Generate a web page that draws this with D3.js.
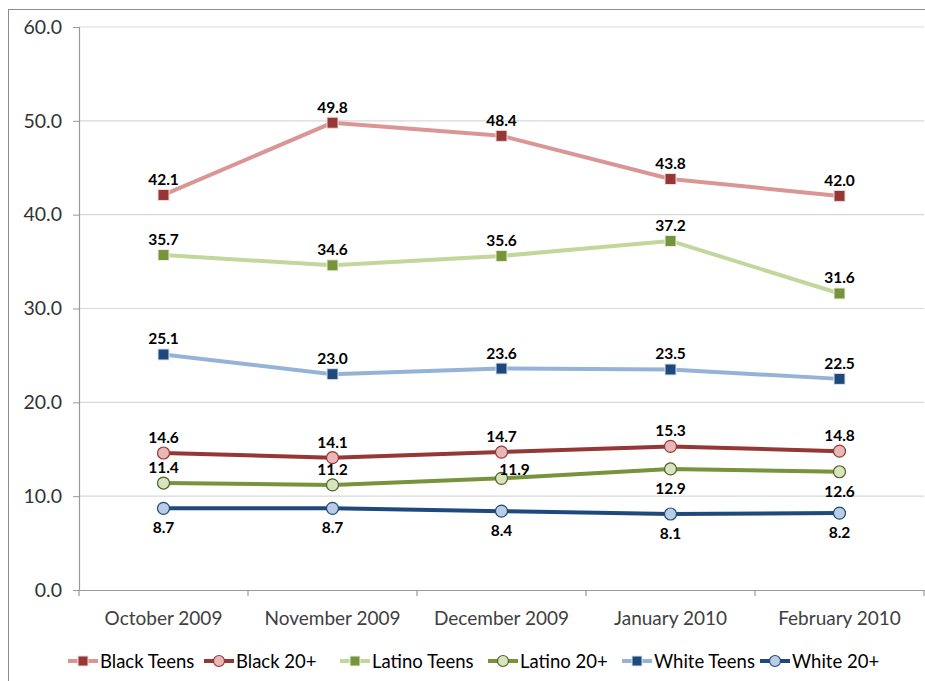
<!DOCTYPE html>
<html><head><meta charset="utf-8">
<script src="https://cdn.jsdelivr.net/npm/d3@7"></script>
<style>body{margin:0;background:#fff;}svg{display:block;font-family:Lato,"Open Sans",sans-serif;}</style>
</head><body>
<svg id="c" width="925" height="681"></svg>
<script>
const categories = ["October 2009","November 2009","December 2009","January 2010","February 2010"];
const seriesNames = ["Black Teens","Black 20+","Latino Teens","Latino 20+","White Teens","White 20+"];
const blackTeens = [42.1,49.8,48.4,43.8,42.0];
const black20 = [14.6,14.1,14.7,15.3,14.8];
const latinoTeens = [35.7,34.6,35.6,37.2,31.6];
const latino20 = [11.4,11.2,11.9,12.9,12.6];
const whiteTeens = [25.1,23.0,23.6,23.5,22.5];
const white20 = [8.7,8.7,8.4,8.1,8.2];
const yTicks = [0,10,20,30,40,50,60];
// label placement: "a" above, "b" below, "r" above-right
const labelPos = [
  ["a","a","a","a","a"],
  ["a","a","a","a","a"],
  ["a","a","a","a","a"],
  ["a","a","r","b","b"],
  ["a","a","a","a","a"],
  ["b","b","b","b","b"]
];
const styles = [
  {line:"#D99694", marker:"square", fill:"#953735", stroke:"#F2DCDB"},
  {line:"#953735", marker:"circle", fill:"#E6B9B8", stroke:"#953735"},
  {line:"#C3D69B", marker:"square", fill:"#77933C", stroke:"#EBF1DE"},
  {line:"#77933C", marker:"circle", fill:"#D7E4BD", stroke:"#4F6228"},
  {line:"#95B3D7", marker:"square", fill:"#1F497D", stroke:"#DCE6F2"},
  {line:"#1F497D", marker:"circle", fill:"#B9CDE5", stroke:"#1F497D"}
];
const data = [blackTeens,black20,latinoTeens,latino20,whiteTeens,white20];

const svg = d3.select("#c");
svg.append("rect").attr("x",8.5).attr("y",9.5).attr("width",930).attr("height",700)
  .attr("fill","none").attr("stroke","#8c8c8c").attr("stroke-width",1);

const pL=79, pR=924, pT=27, pB=590;
const x = d3.scaleBand().domain(categories).range([pL,pR]);
const y = d3.scaleLinear().domain([0,60]).range([pB,pT]);

// gridlines
svg.append("g").selectAll("line").data(yTicks.filter(d=>d>0)).join("line")
  .attr("x1",pL).attr("x2",pR).attr("y1",d=>y(d)).attr("y2",d=>y(d))
  .attr("stroke","#d9d9d9").attr("stroke-width",1.2);

// y axis
const ya = svg.append("g").attr("transform",`translate(${pL},0)`)
  .call(d3.axisLeft(y).tickValues(yTicks).tickFormat(d3.format(".1f")).tickSize(6).tickPadding(11));
ya.select(".domain").attr("stroke","#999").attr("stroke-width",1.2);
ya.selectAll(".tick line").attr("stroke","#999");
ya.selectAll("text").attr("font-size",19.5).attr("fill","#333").attr("font-family","Lato,sans-serif");

// x axis
const xa = svg.append("g").attr("transform",`translate(0,${pB})`)
  .call(d3.axisBottom(x).tickSize(0).tickPadding(22));
xa.select(".domain").attr("stroke","#999").attr("stroke-width",1.2);
xa.selectAll("text").attr("font-size",19).attr("fill","#404040").attr("font-family","Lato,sans-serif");
// category boundary ticks
const bounds = categories.map(c=>x(c)).concat([pR]);
xa.append("g").selectAll("line").data(bounds).join("line")
  .attr("x1",d=>d).attr("x2",d=>d).attr("y1",0).attr("y2",6).attr("stroke","#999").attr("stroke-width",1.2);

const cx = c => x(c)+x.bandwidth()/2;
const line = d3.line().x((d,i)=>cx(categories[i])).y(d=>y(d));

data.forEach((vals,si)=>{
  const st = styles[si];
  const g = svg.append("g");
  g.append("path").datum(vals).attr("d",line).attr("fill","none")
    .attr("stroke",st.line).attr("stroke-width",4).attr("stroke-linejoin","round");
  vals.forEach((v,i)=>{
    const px = cx(categories[i]), py = y(v);
    if(st.marker==="square"){
      g.append("rect").attr("x",px-5.5).attr("y",py-5.5).attr("width",11).attr("height",11)
        .attr("fill",st.fill).attr("stroke",st.stroke).attr("stroke-width",1);
    } else {
      g.append("circle").attr("cx",px).attr("cy",py).attr("r",6)
        .attr("fill",st.fill).attr("stroke",st.stroke).attr("stroke-width",1.2);
    }
  });
});
// labels on top
data.forEach((vals,si)=>{
  vals.forEach((v,i)=>{
    const px = cx(categories[i]), py = y(v);
    const p = labelPos[si][i];
    let lx=px, ly=py-10;
    if(p==="b") ly = py+25;
    if(p==="r"){ lx = px+13; ly = py-3; }
    svg.append("text").attr("x",lx).attr("y",ly).attr("text-anchor","middle")
      .attr("font-size",15.5).attr("font-weight","bold").attr("fill","#000")
      .text(d3.format(".1f")(v));
  });
});

// legend
const legX = [68,204,340,488,622,760];
const lg = svg.append("g").attr("transform","translate(0,661)");
seriesNames.forEach((n,si)=>{
  const st = styles[si];
  const gx = legX[si];
  lg.append("line").attr("x1",gx).attr("x2",gx+30).attr("y1",0).attr("y2",0)
    .attr("stroke",st.line).attr("stroke-width",4);
  if(st.marker==="square"){
    lg.append("rect").attr("x",gx+15-5).attr("y",-5).attr("width",10).attr("height",10)
      .attr("fill",st.fill).attr("stroke",st.stroke);
  } else {
    lg.append("circle").attr("cx",gx+15).attr("cy",0).attr("r",5.5)
      .attr("fill",st.fill).attr("stroke",st.stroke).attr("stroke-width",1.2);
  }
  lg.append("text").attr("x",gx+32).attr("y",6.5).attr("font-size",18.5).attr("fill","#000")
    .attr("textLength", null).text(n);
});
</script>
</body></html>
